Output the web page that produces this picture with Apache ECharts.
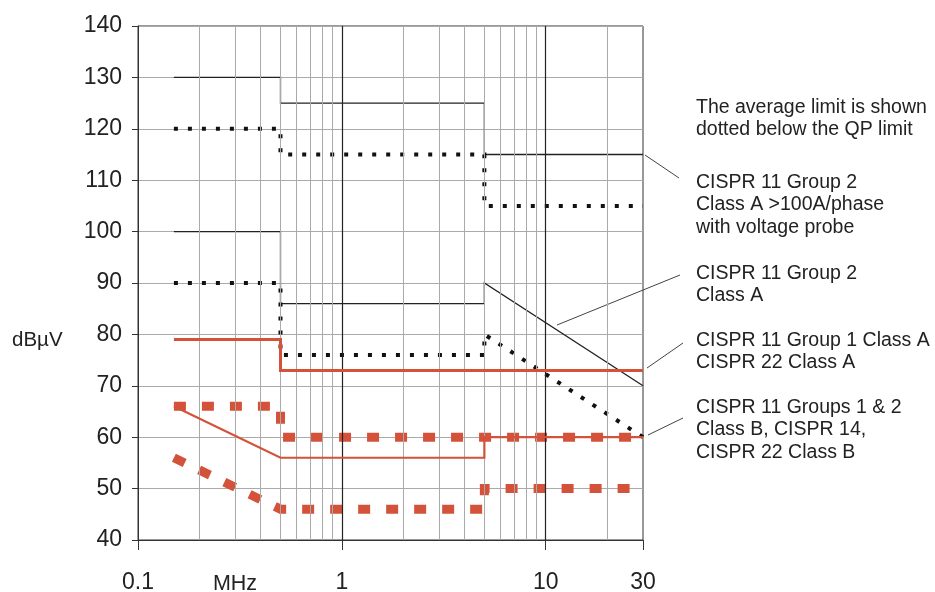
<!DOCTYPE html>
<html><head><meta charset="utf-8">
<script src="https://cdn.jsdelivr.net/npm/echarts@6/dist/echarts.min.js"></script>
<style>html,body{margin:0;padding:0;background:#fff}#c{width:935px;height:592px}</style>
</head><body><div id="c"></div>
<script>
// ---- data ----
const xTickLabels = ['0.1', '1', '10', '30'];
const minorGridFreqs = [0.2, 0.3, 0.4, 0.5, 0.6, 0.7, 0.8, 0.9, 2, 3, 4, 5, 6, 7, 8, 9, 20];
const majorGridFreqs = [1, 10];
// CISPR 11 Group 2 Class A >100A/phase (QP / average)
const g2HighQP = [[0.15, 130], [0.5, 130], [0.5, 125], [5, 125], [5, 115], [30, 115]];
const g2HighAV = [[0.15, 120], [0.5, 120], [0.5, 115], [5, 115], [5, 105], [30, 105]];
// CISPR 11 Group 2 Class A
const g2QP = [[0.15, 100], [0.5, 100], [0.5, 86], [5, 86], [5, 90], [30, 70]];
const g2AV = [[0.15, 90], [0.5, 90], [0.5, 76], [5, 76], [5, 80], [30, 60]];
// CISPR 11 Group 1 Class A / CISPR 22 Class A
const g1QP = [[0.15, 79], [0.5, 79], [0.5, 73], [30, 73]];
const g1AV = [[0.15, 66], [0.5, 66], [0.5, 60], [30, 60]];
// Class B
const classBQP = [[0.15, 66], [0.5, 56], [5, 56], [5, 60], [30, 60]];
const classBAV = [[0.15, 56], [0.5, 46], [5, 46], [5, 50], [30, 50]];

const FONT = '"Liberation Sans", Arial, sans-serif';
const RED = '#d4513a';
const TXT = '#222';

const chart = echarts.init(document.getElementById('c'), null, {renderer: 'canvas'});

function lineSeries(data, color, width, type, z) {
  return {
    type: 'line', data: data, showSymbol: false, symbol: 'none', z: z,
    animation: false, silent: true,
    lineStyle: {color: color, width: width, type: type, cap: 'butt', join: 'miter'}
  };
}

const tickVals = xTickLabels.map(parseFloat);

const option = {
  backgroundColor: '#fff',
  animation: false,
  grid: {left: 138, right: 292, top: 26, bottom: 52, show: true, borderColor: '#333', borderWidth: 1,
         containLabel: false, outerBoundsMode: 'none'},
  xAxis: {
    type: 'log', logBase: 10, min: 0.1, max: 30,
    axisLine: {show: true, lineStyle: {color: '#333', width: 1}},
    axisTick: {show: true, length: 10, customValues: tickVals, lineStyle: {color: '#333'}},
    axisLabel: {
      show: true, customValues: tickVals, margin: 31, fontSize: 23, color: TXT, fontFamily: FONT,
      formatter: function (v) {
        for (let i = 0; i < tickVals.length; i++) if (Math.abs(tickVals[i] - v) < 1e-6 * tickVals[i] + 1e-9) return xTickLabels[i];
        return '';
      }
    },
    splitLine: {show: false},
    minorTick: {show: false}, minorSplitLine: {show: false}
  },
  yAxis: {
    type: 'value', min: 40, max: 140, interval: 10,
    axisLine: {show: true, lineStyle: {color: '#333', width: 1}},
    axisTick: {show: true, length: 6, lineStyle: {color: '#333'}},
    axisLabel: {margin: 16, fontSize: 23, color: TXT, fontFamily: FONT},
    splitLine: {show: true, lineStyle: {color: '#aaa', width: 1}}
  },
  series: [
    {
      type: 'line', data: [], z: 1, silent: true,
      markLine: {
        silent: true, symbol: 'none', animation: false, label: {show: false},
        data: minorGridFreqs.map(f => ({xAxis: f, lineStyle: {color: '#aaa', width: 1, type: 'solid'}}))
          .concat(majorGridFreqs.map(f => ({xAxis: f, lineStyle: {color: '#222', width: 1.2, type: 'solid'}})))
      }
    },
    lineSeries(g2HighQP, '#222', 1.3, 'solid', 3),
    lineSeries(g2HighAV, '#111', 4, [4, 10], 3),
    lineSeries(g2QP, '#222', 1.3, 'solid', 3),
    lineSeries(g2AV, '#111', 4, [4, 10], 3),
    lineSeries(g1AV, RED, 9, [12, 16], 4),
    lineSeries(classBAV, RED, 9, [12, 16], 4),
    lineSeries(classBQP, RED, 2.2, 'solid', 5),
    lineSeries(g1QP, RED, 3, 'solid', 5)
  ],
  graphic: [
    {type: 'text', x: 12, y: 340, style: {text: 'dBµV', font: '20.5px ' + FONT, fill: TXT, verticalAlign: 'middle'}},
    {type: 'text', x: 235, y: 584, style: {text: 'MHz', font: '21.5px ' + FONT, fill: TXT, align: 'center', verticalAlign: 'middle'}},
    {type: 'text', x: 696, y: 97, style: {text: 'The average limit is shown\ndotted below the QP limit', font: '19.5px ' + FONT, fill: TXT, lineHeight: 22, verticalAlign: 'top'}},
    {type: 'text', x: 696, y: 171, style: {text: 'CISPR 11 Group 2\nClass A >100A/phase\nwith voltage probe', font: '19.5px ' + FONT, fill: TXT, lineHeight: 22.5, verticalAlign: 'top'}},
    {type: 'text', x: 696, y: 262, style: {text: 'CISPR 11 Group 2\nClass A', font: '19.5px ' + FONT, fill: TXT, lineHeight: 22.5, verticalAlign: 'top'}},
    {type: 'text', x: 696, y: 329, style: {text: 'CISPR 11 Group 1 Class A\nCISPR 22 Class A', font: '19.5px ' + FONT, fill: TXT, lineHeight: 22.5, verticalAlign: 'top'}},
    {type: 'text', x: 696, y: 396, style: {text: 'CISPR 11 Groups 1 & 2\nClass B, CISPR 14,\nCISPR 22 Class B', font: '19.5px ' + FONT, fill: TXT, lineHeight: 22.5, verticalAlign: 'top'}},
    {type: 'line', shape: {x1: 645, y1: 155, x2: 679, y2: 178}, style: {stroke: '#444', lineWidth: 1}},
    {type: 'line', shape: {x1: 557, y1: 325, x2: 680, y2: 275}, style: {stroke: '#444', lineWidth: 1}},
    {type: 'line', shape: {x1: 647, y1: 368, x2: 683, y2: 343}, style: {stroke: '#444', lineWidth: 1}},
    {type: 'line', shape: {x1: 648, y1: 435, x2: 683, y2: 418}, style: {stroke: '#444', lineWidth: 1}}
  ]
};
chart.setOption(option);
</script>
</body></html>
